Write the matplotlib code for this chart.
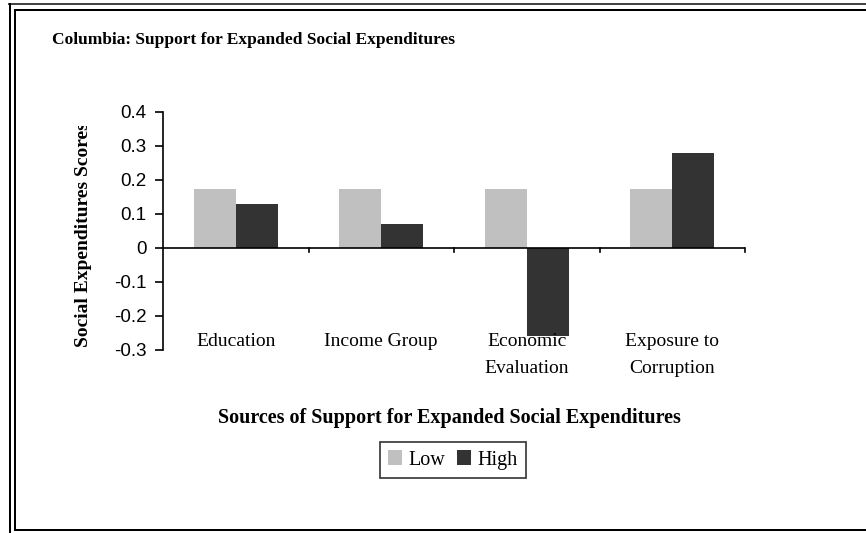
import matplotlib
matplotlib.use('Agg')
import matplotlib.pyplot as plt
from matplotlib.lines import Line2D
from matplotlib.patches import Patch
from matplotlib.transforms import Bbox, TransformedBbox

categories = ['Education', 'Income Group', 'Economic\nEvaluation', 'Exposure to\nCorruption']
low = [0.175, 0.175, 0.175, 0.175]
high = [0.13, 0.07, -0.26, 0.28]
yticks = [-0.3, -0.2, -0.1, 0, 0.1, 0.2, 0.3, 0.4]
ytick_labels = ['-0.3', '-0.2', '-0.1', '0', '0.1', '0.2', '0.3', '0.4']

W, H = 866, 533
serif = 'Liberation Serif'
sans = 'Liberation Sans'

fig = plt.figure(figsize=(W / 100, H / 100), dpi=100)
fig.patch.set_facecolor('white')


def fx(px):
    return px / W


def fy(py):
    return 1 - py / H


ax = fig.add_axes([fx(163), fy(350), fx(745) - fx(163), fy(112) - fy(350)])

bw = 0.29
xs = [i + 0.5 for i in range(len(categories))]
ax.bar([x - bw / 2 for x in xs], low, width=bw, color='#C0C0C0', label='Low')
ax.bar([x + bw / 2 for x in xs], high, width=bw, color='#333333', label='High')

ax.set_xlim(0, len(categories))
ax.set_ylim(-0.3, 0.4)
for s in ['top', 'right', 'bottom']:
    ax.spines[s].set_visible(False)
ax.spines['left'].set_linewidth(1.2)
ax.set_yticks(yticks)
ax.set_yticklabels(ytick_labels, fontfamily=sans, fontsize=13.5)
ax.tick_params(axis='y', direction='out', length=6, width=1.2, pad=6)
ax.set_xticks([])

# zero line with category dividers
ax.axhline(0, color='black', lw=1.2)
for i in range(1, len(categories) + 1):
    ax.plot([i, i], [0, -0.012], color='black', lw=1.2, clip_on=False)

# category labels at the bottom of the plot area
for x, c in zip(xs, categories):
    ax.text(x, 0.07, c, transform=ax.get_xaxis_transform(), ha='center', va='top',
            fontfamily=serif, fontsize=14, linespacing=1.75)

fig.text(fx(52), fy(40), 'Columbia: Support for Expanded Social Expenditures',
         fontfamily=serif, fontweight='bold', fontsize=12.5, ha='left', va='center')

yl = fig.text(fx(83), fy(347), 'Social Expenditures Scores', rotation=90,
              fontfamily=serif, fontweight='bold', fontsize=14, ha='center', va='bottom',
              clip_on=True)
yl.set_clip_box(TransformedBbox(Bbox([[0, 0], [1, fy(126)]]), fig.transFigure))

fig.text(fx(449), fy(418), 'Sources of Support for Expanded Social Expenditures',
         fontfamily=serif, fontweight='bold', fontsize=14.5, ha='center', va='center')

handles = [Patch(facecolor='#C0C0C0', edgecolor='none', label='Low'),
           Patch(facecolor='#333333', edgecolor='none', label='High')]
leg = fig.legend(handles=handles, loc='center', bbox_to_anchor=(fx(453), fy(460)), ncol=2,
                 frameon=True, fancybox=False, prop={'family': serif, 'size': 14.5},
                 handlelength=0.7, handleheight=0.7, handletextpad=0.3, columnspacing=0.6,
                 borderpad=0.4, borderaxespad=0)
leg.get_frame().set_edgecolor('black')
leg.get_frame().set_linewidth(1.2)

# double frame around the chart
frame = [
    ([9, W], [4, 4], '#444444', 2),
    ([10, 10], [4, H], 'black', 2),
    ([15, W], [10, 10], 'black', 2),
    ([15, 15], [10, 530], 'black', 2),
    ([15, W], [530, 530], 'black', 2),
]
for xsf, ysf, col, lw in frame:
    fig.add_artist(Line2D([fx(v) for v in xsf], [fy(v) for v in ysf], color=col,
                          lw=lw * 0.72, transform=fig.transFigure))

fig.savefig('out.png', dpi=100)
